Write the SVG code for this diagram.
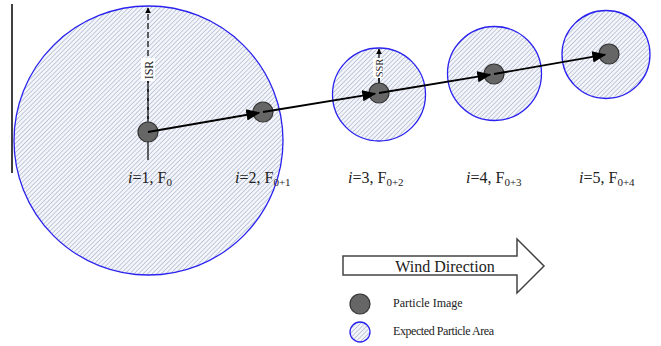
<svg xmlns="http://www.w3.org/2000/svg" width="661" height="346" viewBox="0 0 661 346">
<defs>
<pattern id="hatch" patternUnits="userSpaceOnUse" width="3.2" height="3.2" patternTransform="rotate(45)">
<rect width="3.2" height="3.2" fill="#f3f5fa"/>
<line x1="0" y1="0" x2="0" y2="3.2" stroke="#a9b4cc" stroke-width="1.3"/>
</pattern>
<marker id="ah" viewBox="0 0 10 10" refX="9" refY="5" markerWidth="6" markerHeight="6" orient="auto" markerUnits="userSpaceOnUse">
<path d="M0,0 L10,5 L0,10 z" fill="#000"/>
</marker>
<marker id="ahs" viewBox="0 0 10 10" refX="9" refY="5" markerWidth="5" markerHeight="5" orient="auto" markerUnits="userSpaceOnUse">
<path d="M0,0 L10,5 L0,10 z" fill="#000"/>
</marker>
<marker id="big" viewBox="0 0 10 10" refX="9" refY="5" markerWidth="14" markerHeight="14" orient="auto" markerUnits="userSpaceOnUse">
<path d="M0,1 L10,5 L0,9 z" fill="#000"/>
</marker>
</defs>
<style>
.area{fill:url(#hatch);stroke:#2a22ee;stroke-width:1.3}
.part{fill:#666;stroke:#333;stroke-width:1.2}
.lbl{font-family:"Liberation Serif","Times New Roman",serif;font-size:16px;fill:#222}
.sub{font-size:11px}
.leg{font-family:"Liberation Serif","Times New Roman",serif;font-size:12px;fill:#222}
.dash{stroke:#000;stroke-width:1.2;stroke-dasharray:6,3;fill:none}
.conn{stroke:#000;stroke-width:1.8;fill:none}
</style>
<rect width="661" height="346" fill="#fff"/>
<line x1="12" y1="4" x2="12" y2="173" stroke="#000" stroke-width="1.5"/>

<g id="area1"><circle class="area" cx="148.5" cy="140.5" r="134.5"/></g>
<g id="area3"><circle class="area" cx="379" cy="94.5" r="46.5"/></g>
<g id="area4"><circle class="area" cx="494.5" cy="73.5" r="47"/></g>
<g id="area5"><circle class="area" cx="606" cy="54.5" r="44"/></g>

<g id="isr">
<line class="dash" x1="148" y1="128" x2="148" y2="8" marker-end="url(#ah)"/>
<line class="dash" x1="148" y1="80" x2="148" y2="129" marker-end="url(#ahs)"/>
<line x1="148" y1="132" x2="148" y2="160" stroke="#000" stroke-width="1.2"/>
<rect x="141" y="58" width="14" height="23" fill="#fff"/>
<text class="lbl" style="font-size:12px" transform="translate(152.5,70) rotate(-90)" text-anchor="middle">ISR</text>
</g>
<g id="ssr">
<line x1="379" y1="84" x2="379" y2="49" stroke="#000" stroke-width="1.2" marker-end="url(#ah)"/>
<line x1="379" y1="76" x2="379" y2="89" stroke="#000" stroke-width="1.2" marker-end="url(#ahs)"/>
<rect x="373" y="58" width="11" height="20" fill="#fff"/>
<text class="lbl" style="font-size:10.5px" transform="translate(382.5,68) rotate(-90)" text-anchor="middle">SSR</text>
</g>

<g id="p1"><circle class="part" cx="148" cy="132" r="10"/></g>
<g id="p2"><circle class="part" cx="263" cy="112" r="10"/></g>
<g id="p3"><circle class="part" cx="379" cy="93" r="10"/></g>
<g id="p4"><circle class="part" cx="494" cy="74" r="10"/></g>
<g id="p5"><circle class="part" cx="609" cy="54" r="10"/></g>

<g id="connectors">
<line class="conn" x1="148" y1="132" x2="259" y2="112.7" marker-end="url(#big)"/>
<line class="conn" x1="263" y1="112" x2="375" y2="93.7" marker-end="url(#big)"/>
<line class="conn" x1="379" y1="93" x2="490" y2="74.7" marker-end="url(#big)"/>
<line class="conn" x1="494" y1="74" x2="605" y2="54.7" marker-end="url(#big)"/>
</g>

<g id="labels">
<text class="lbl" x="128" y="183"><tspan font-style="italic">i</tspan>=1, F<tspan class="sub" dy="3">0</tspan></text>
<text class="lbl" x="235" y="183"><tspan font-style="italic">i</tspan>=2, F<tspan class="sub" dy="3">0+1</tspan></text>
<text class="lbl" x="348" y="183"><tspan font-style="italic">i</tspan>=3, F<tspan class="sub" dy="3">0+2</tspan></text>
<text class="lbl" x="466" y="183"><tspan font-style="italic">i</tspan>=4, F<tspan class="sub" dy="3">0+3</tspan></text>
<text class="lbl" x="579" y="183"><tspan font-style="italic">i</tspan>=5, F<tspan class="sub" dy="3">0+4</tspan></text>
</g>

<g id="wind">
<path d="M343,256 H517 V239 L544,266 L517,293 V275 H343 Z" fill="#fff" stroke="#444" stroke-width="1.5"/>
<text class="lbl" x="445" y="272" text-anchor="middle">Wind Direction</text>
</g>

<g id="legend-particle">
<circle class="part" cx="360" cy="304" r="10"/>
<text class="leg" x="393" y="307">Particle Image</text>
</g>
<g id="legend-area">
<circle class="area" cx="360" cy="332" r="10" stroke-width="1.5"/>
<text class="leg" x="393" y="335" textLength="101">Expected Particle Area</text>
</g>
</svg>
